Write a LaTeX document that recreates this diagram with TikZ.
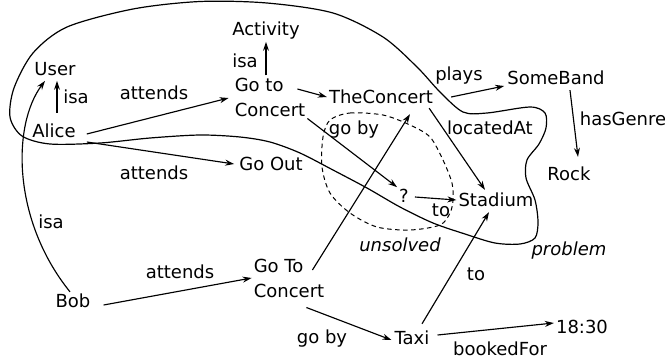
\documentclass[tikz,border=0pt]{standalone}
\usepackage{fontspec}
\setmainfont{DejaVu Sans}
\usetikzlibrary{arrows.meta}
\begin{document}
\begin{tikzpicture}[x=1pt,y=-1pt,
  every node/.style={font=\fontsize{18}{25}\selectfont, inner sep=2pt},
  ent/.style={},
  lab/.style={},
  ital/.style={font=\fontsize{18}{25}\selectfont\itshape},
  rel/.style={-{Stealth[length=9pt,width=6pt]}, line width=1.15pt},
  blob/.style={line width=1.2pt}
]
\useasboundingbox (0,0) rectangle (665,360);

% entities
\node[ent] (user) at (55,69) {User};
\node[ent] (alice) at (54,131) {Alice};
\node[ent,align=left] (gtc) at (270,97) {Go to\\Concert};
\node[ent] (activity) at (266,31) {Activity};
\node[ent] (goout) at (271,164) {Go Out};
\node[ent] (theconcert) at (381,97) {TheConcert};
\node[ent] (someband) at (556,78) {SomeBand};
\node[ent] (rock) at (569,174) {Rock};
\node[ent] (q) at (404,196) {?};
\node[ent] (stadium) at (496,200) {Stadium};
\node[ent,align=left] (gtc2) at (289,278) {Go To\\Concert};
\node[ent] (bob) at (73,301) {Bob};
\node[ent] (taxi) at (412,338) {Taxi};
\node[ent] (time) at (582,327) {18:30};

% labels
\node[lab] (l-isa1) at (76,97) {isa};
\node[lab] (l-att1) at (154,93) {attends};
\node[lab] (l-att2) at (154,173) {attends};
\node[lab] (l-isa2) at (245,61) {isa};
\node[lab] (l-plays) at (459,76) {plays};
\node[lab] (l-genre) at (623,119) {hasGenre};
\node[lab] (l-loc) at (490,128) {locatedAt};
\node[lab] (l-goby1) at (354,130) {go by};
\node[lab] (l-to1) at (441,210) {to};
\node[ital] (l-unsolved) at (400,245) {unsolved};
\node[ital] (l-problem) at (569,251) {problem};
\node[lab] (l-to2) at (476,274) {to};
\node[lab] (l-att3) at (180,272) {attends};
\node[lab] (l-isa3) at (51,222) {isa};
\node[lab] (l-goby2) at (322,339) {go by};
\node[lab] (l-booked) at (500,349) {bookedFor};

% connectors
\draw[rel] ([shift={(9,3)}]alice.east) -- ([shift={(-4,1)}]gtc.west);
\draw[rel] ([shift={(9,11)}]alice.east) -- ([xshift=-3pt]goout.west);
\draw[rel] ([shift={(3,-9)}]alice.north) -- ([shift={(2,3)}]user.south);
\draw[rel] ([xshift=-4pt]gtc.north) -- (activity.south);
\draw[rel] ([shift={(-10,-8)}]gtc.east) -- (theconcert.west);
\draw[rel] ([shift={(16,0)}]theconcert.east) -- ([shift={(-1,8)}]someband.west);
\draw[rel] ([shift={(14,3)}]someband.south) -- ([shift={(9,-8)}]rock.north);
\draw[rel] ([shift={(-6,2)}]theconcert.south east) -- ([shift={(-11,-1)}]stadium.north);
\draw[rel] (gtc.south east) -- (q.north west);
\draw[rel] ([shift={(4,1)}]q.east) -- ([shift={(0,0)}]stadium.west);
\draw[rel] ([shift={(11,4)}]bob.east) -- (gtc2.west);
\draw[rel] ([xshift=-3pt]bob.north) .. controls (12,220) and (12,125) .. ([shift={(-10,3)}]user.south);
\draw[rel] ([shift={(-14,-8)}]gtc2.east) -- ([shift={(29,8)}]theconcert.south);
\draw[rel] ([shift={(-20,8)}]gtc2.south east) -- ([shift={(-1,2)}]taxi.west);
\draw[rel] ([shift={(10,-5)}]taxi.north) -- ([shift={(-7,3)}]stadium.south);
\draw[rel] ([shift={(6,-3)}]taxi.east) -- ([shift={(0,-4)}]time.west);

% problem region
\draw[blob] plot[smooth cycle] coordinates {
 (10,117) (14,88) (33,53) (67,27) (133,9) (200,1.5) (267,3) (333,13) (383,37)
 (417,67) (440,92) (463,112) (487,113) (530,107) (545,113) (546,128) (539,144)
 (527,160) (526,178) (535,200) (538,222) (535,238) (520,244) (495,243) (465,234)
 (433,223) (400,207) (367,188) (333,170) (300,153) (270,142) (240,137) (200,135)
 (150,138) (100,143) (50,144) (22,136)};

% unsolved region
\draw[blob,line width=1pt,dash pattern=on 4.5pt off 3.5pt] plot[smooth cycle] coordinates {
 (330,120) (350,113) (383,115) (410,125) (430,137) (443,160) (452,183) (453,200)
 (450,213) (440,225) (410,230) (377,227) (350,213) (330,193) (322,167) (323,137)};
\end{tikzpicture}
\end{document}
